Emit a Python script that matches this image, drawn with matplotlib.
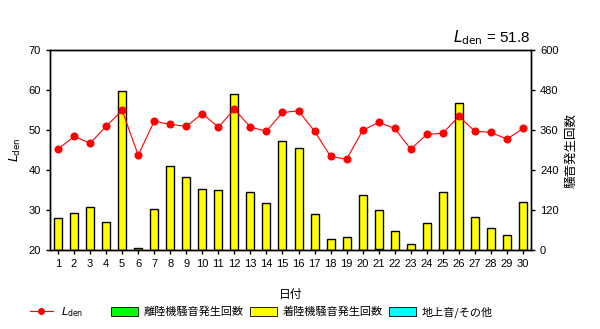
import matplotlib
matplotlib.use('Agg')
import matplotlib.pyplot as plt
from matplotlib.patches import Patch
from matplotlib.lines import Line2D
import numpy as np

plt.rcParams['font.family'] = ['Liberation Sans', 'Noto Sans CJK JP', 'DejaVu Sans']

days = list(range(1, 31))
lden = [45.2, 48.4, 46.7, 50.9, 54.9, 43.7, 52.2, 51.4, 50.9, 54.1,
        50.7, 55.2, 50.7, 49.7, 54.4, 54.75, 49.7, 43.4, 42.7, 49.9,
        51.9, 50.4, 45.2, 48.9, 49.2, 53.4, 49.7, 49.4, 47.7, 50.4]
takeoff = [0, 1, 0, 0, 0, 0, 1, 0, 0, 0,
           0, 0, 0, 0, 0, 0, 0, 0, 0, 0,
           3, 0, 0, 0, 0, 0, 0, 1, 0, 0]
landing = [95, 109, 128, 83, 476, 5, 121, 251, 218, 182,
           179, 467, 173, 140, 326, 305, 107, 32, 38, 164,
           116, 56, 17, 80, 173, 440, 98, 64, 44, 143]
ground = [0] * 30
lden_total = 51.8

fig = plt.figure(figsize=(6.0, 3.29), dpi=100)
ax = fig.add_axes([50 / 600, 1 - 250 / 329, 481 / 600, 200 / 329])
ax2 = ax.twinx()

# bars on the right axis, behind the Lden line
ax.set_zorder(ax2.get_zorder() + 1)
ax.patch.set_visible(False)

x = np.array(days)
w = 0.5
ax2.bar(x, takeoff, w, color='#00ff00', edgecolor='black', linewidth=1)
ax2.bar(x, landing, w, bottom=takeoff, color='#ffff00', edgecolor='black', linewidth=1)
ax2.bar(x, ground, w, bottom=np.array(takeoff) + np.array(landing),
        color='#00ffff', edgecolor='black', linewidth=0)

ax.plot(x, lden, color='red', linewidth=0.8, marker='o', markersize=4.8)

ax.set_xlim(0.5, 30.5)
ax.set_ylim(20, 70)
ax.set_yticks(range(20, 71, 10))
ax2.set_ylim(0, 600)
ax2.set_yticks(range(0, 601, 120))
ax.set_xticks(days)

for a in (ax, ax2):
    a.tick_params(labelsize=8, length=3, width=1, direction='out')
    for s in a.spines.values():
        s.set_linewidth(1)

ax.set_ylabel(r'$\mathit{L}_{\mathrm{den}}$', fontsize=9, labelpad=4)
ax2.set_ylabel('騒音発生回数', fontsize=9, family=['Noto Sans CJK JP'], labelpad=4)
ax.set_xlabel('日付', fontsize=8.5, family=['Noto Sans CJK JP'], labelpad=14)

fig.text(530 / 600, 1 - 38 / 329, r'$\mathit{L}_{\mathrm{den}}$ = %.1f' % lden_total,
         ha='right', va='center', fontsize=11)

prop = {'family': ['Noto Sans CJK JP', 'DejaVu Sans'], 'size': 8}
leg1 = fig.legend([Line2D([0], [0], color='red', linewidth=0.8, marker='o', markersize=4)],
                  [r'$\mathit{L}_{\mathrm{den}}$'],
                  loc='center', bbox_to_anchor=(57 / 600, 1 - 312 / 329),
                  frameon=False, prop=prop, handlelength=2.0, handletextpad=0.8)
handles = [
    Patch(facecolor='#00ff00', edgecolor='black', linewidth=0.6),
    Patch(facecolor='#ffff00', edgecolor='black', linewidth=0.6),
    Patch(facecolor='#00ffff', edgecolor='black', linewidth=0.6),
]
labels = ['離陸機騒音発生回数', '着陸機騒音発生回数', '地上音/その他']
fig.legend(handles, labels, loc='center', bbox_to_anchor=(302 / 600, 1 - 312 / 329),
           ncol=3, frameon=False, prop=prop,
           handlelength=2.4, handleheight=0.9, columnspacing=0.6, handletextpad=0.5)

fig.savefig('out.png', dpi=100)
